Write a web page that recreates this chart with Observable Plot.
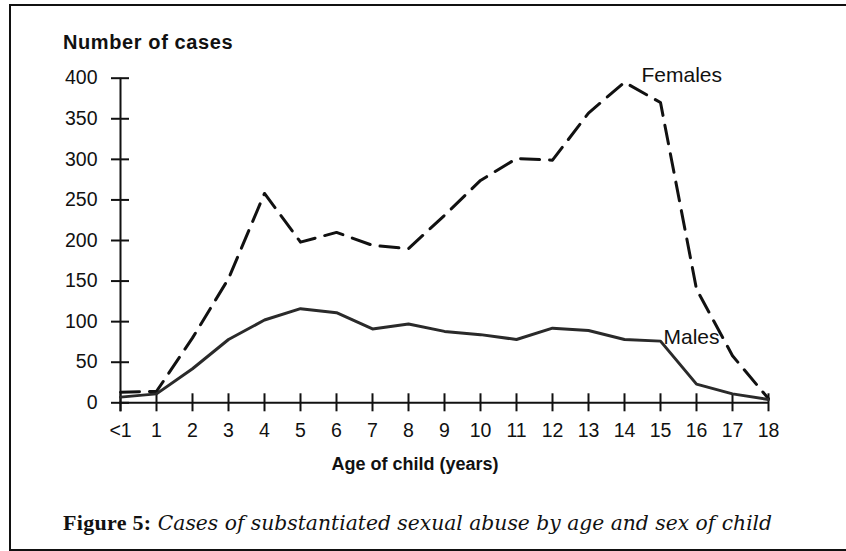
<!DOCTYPE html>
<html>
<head>
<meta charset="utf-8">
<script src="https://cdn.jsdelivr.net/npm/d3@7"></script>
<script src="https://cdn.jsdelivr.net/npm/@observablehq/plot@0.6"></script>
<style>
  html, body { margin: 0; padding: 0; background: #fff; }
  body { width: 846px; height: 551px; position: relative; overflow: hidden; }
  #frame { position: absolute; left: 9px; top: 4px; width: 860px; height: 543px;
           border-top: 2px solid #111; border-bottom: 2px solid #111; border-left: 2px solid #111; }
  #title { position: absolute; left: 63px; top: 32px; font: bold 20px "Liberation Sans", Arial, sans-serif;
           line-height: 20px; letter-spacing: 0.6px; color: #111; white-space: nowrap; }
  #caption { position: absolute; left: 63px; top: 510px; font: 20px "DejaVu Serif", serif; line-height: 20px;
             color: #111; white-space: nowrap; }
  #caption b { font: bold 22px "Liberation Serif", serif; letter-spacing: 0.3px; }
  #caption i { font-style: italic; font-size: 20.3px; }
  #chart { position: absolute; left: 0; top: 56px; }
</style>
</head>
<body>
<div id="frame"></div>
<div id="title">Number of cases</div>
<div id="chart"></div>
<div id="caption"><b>Figure 5:</b> <i>Cases of substantiated sexual abuse by age and sex of child</i></div>
<script>
const ages = ["<1","1","2","3","4","5","6","7","8","9","10","11","12","13","14","15","16","17","18"];
const females = [13, 14, 80, 153, 258, 198, 210, 194, 190, 231, 274, 301, 299, 357, 395, 370, 140, 58, 5];
const males = [7, 11, 42, 78, 102, 116, 111, 91, 97, 88, 84, 78, 92, 89, 78, 76, 23, 11, 4];
const yTicks = [0, 50, 100, 150, 200, 250, 300, 350, 400];
const xTitle = "Age of child (years)";
const femaleLabel = "Females";
const maleLabel = "Males";

const rows = ages.map((a, i) => ({age: a, females: females[i], males: males[i]}));
const sans = '"Liberation Sans", Arial, sans-serif';

const chart = Plot.plot({
  width: 846,
  height: 424,
  marginLeft: 119,
  marginRight: 78,
  marginTop: 21.7,
  marginBottom: 77.7,
  style: {background: "transparent", fontFamily: sans, color: "#111", overflow: "visible"},
  x: {type: "point", domain: ages, padding: 0, axis: null},
  y: {domain: [0, 400], axis: null},
  marks: [
    // axis lines
    Plot.ruleY([0], {stroke: "#111", strokeWidth: 2}),
    Plot.ruleX([ages[0]], {x: d => d, stroke: "#111", strokeWidth: 2, insetBottom: -9}),
    // crossing ticks
    Plot.ruleX(ages, {x: d => d, y1: () => 0, y2: () => 0, insetTop: -9, insetBottom: -9, stroke: "#111", strokeWidth: 2}),
    Plot.ruleY(yTicks, {y: d => d, x1: () => ages[0], x2: () => ages[0], insetLeft: -9, insetRight: -9, stroke: "#111", strokeWidth: 2}),
    // tick labels
    Plot.text(yTicks, {x: () => ages[0], y: d => d, text: d => String(d), dx: -23, textAnchor: "end", fontSize: 19.5, fill: "#111"}),
    Plot.text(ages, {x: d => d, y: () => 0, text: d => d, dy: 28, fontSize: 19.5, fill: "#111"}),
    // series
    Plot.line(rows, {x: "age", y: "females", stroke: "#111", strokeWidth: 3, strokeDasharray: "19,10", strokeLinejoin: "round"}),
    Plot.line(rows, {x: "age", y: "males", stroke: "#2a2a2a", strokeWidth: 3, strokeLinejoin: "round"}),
    // series labels
    Plot.text([rows[14]], {x: "age", y: "females", text: () => femaleLabel, dx: 17, dy: -7, textAnchor: "start", fontSize: 21, fill: "#111"}),
    Plot.text([rows[15]], {x: "age", y: "males", text: () => maleLabel, dx: 3, dy: -4, textAnchor: "start", fontSize: 21, fill: "#111"}),
    // x axis title
    Plot.text([xTitle], {frameAnchor: "bottom", text: d => d, dx: -29, dy: 67, fontSize: 18, fontWeight: "bold", fill: "#111"})
  ]
});
document.getElementById("chart").appendChild(chart);
</script>
</body>
</html>
